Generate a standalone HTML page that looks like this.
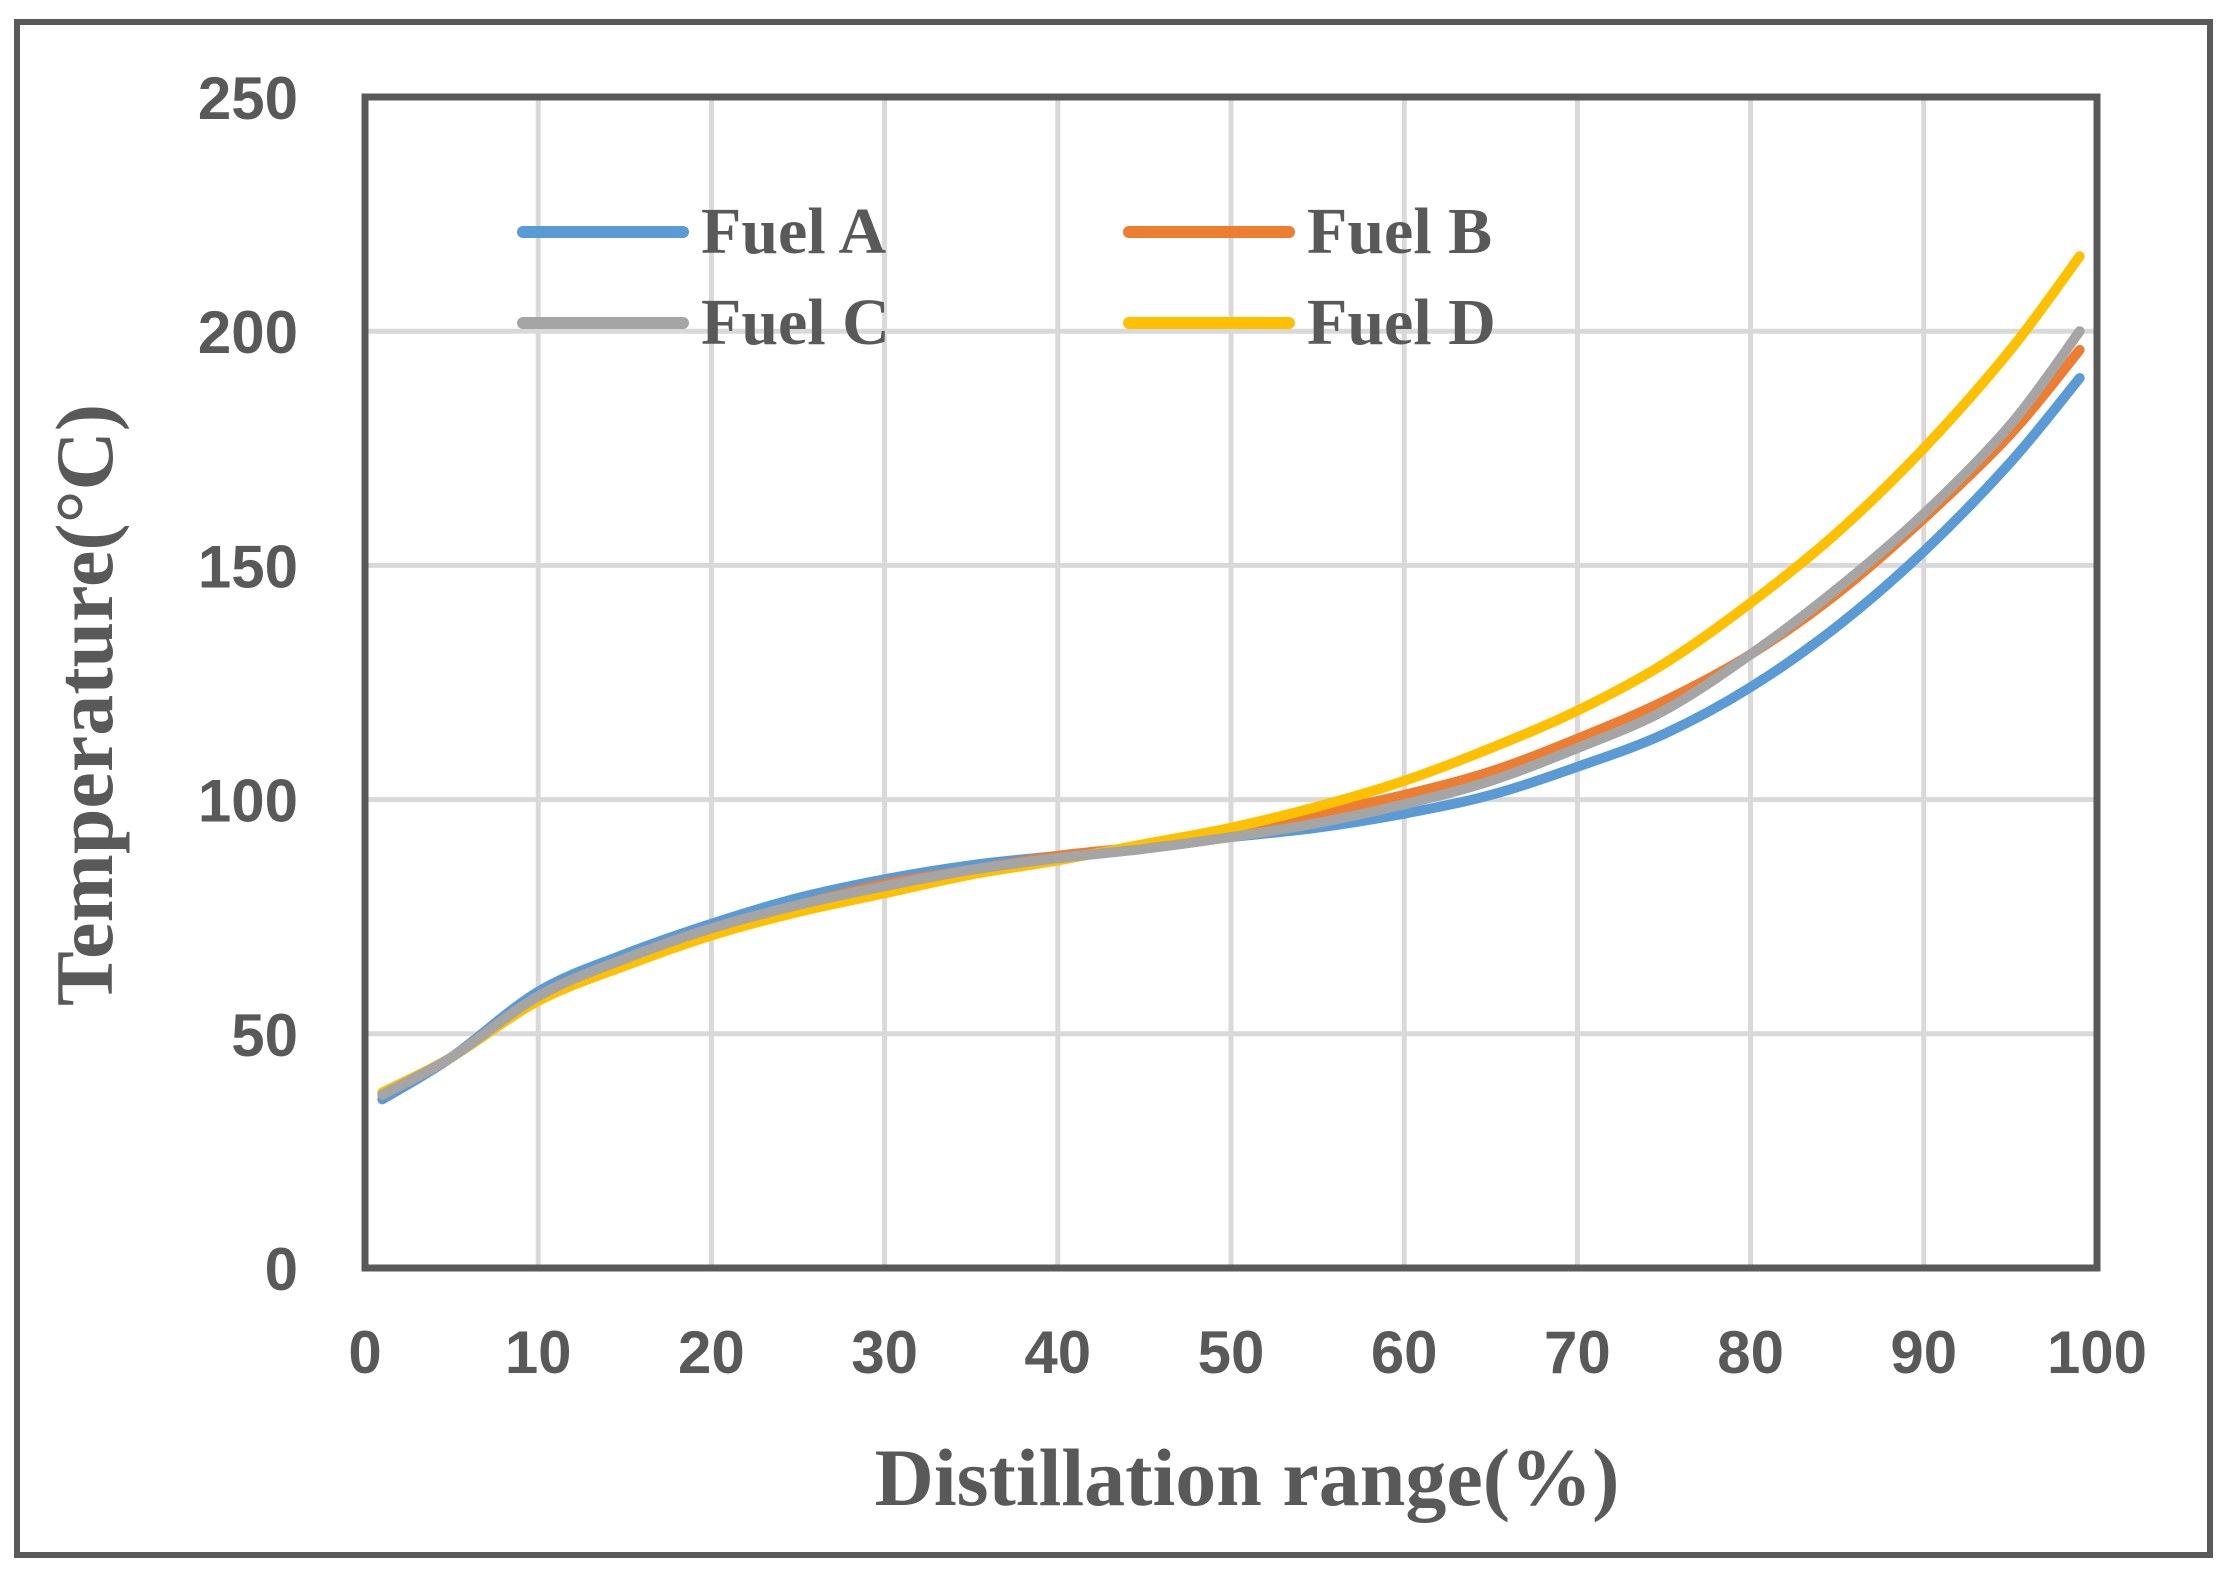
<!DOCTYPE html>
<html><head><meta charset="utf-8"><style>
html,body{margin:0;padding:0;background:#fff;}
svg{display:block;}
</style></head><body>
<svg id="chart" width="2232" height="1572" viewBox="0 0 2232 1572" xmlns="http://www.w3.org/2000/svg">
<rect x="17" y="22" width="2193" height="1533" fill="#fff" stroke="#595959" stroke-width="6"/>
<g id="grid"></g>
<g id="series"></g>
<rect x="365" y="97" width="1732" height="1171" fill="none" stroke="#595959" stroke-width="7"/>
<g id="yticks" font-family="Liberation Sans, sans-serif" font-weight="bold" font-size="60" fill="#595959" text-anchor="end"></g>
<g id="xticks" font-family="Liberation Sans, sans-serif" font-weight="bold" font-size="60" fill="#595959" text-anchor="middle"></g>
<text x="1247" y="1505" font-family="Liberation Serif, serif" font-weight="bold" font-size="82" fill="#595959" text-anchor="middle">Distillation range(%)</text>
<text transform="translate(112,705) rotate(-90)" font-family="Liberation Serif, serif" font-weight="bold" font-size="82" fill="#595959" text-anchor="middle">Temperature(°C)</text>
<g id="legend" font-family="Liberation Serif, serif" font-weight="bold" font-size="66" fill="#595959"></g>
</svg>
<script>
const xValues = [1,5,10,15,20,25,30,35,40,45,50,55,60,65,70,75,80,85,90,95,99];
const fuelA = [36,45,59,67,73.5,79,83,86,88,90,92,94,97,101,107,114,124,137,153,172,190];
const fuelB = [37,45,58,66,72.5,77.5,82,85,88,90,93,97,101,106,113,121,131,144,160,178,196];
const fuelC = [37,45,58,66,72.5,77.5,81.5,85,87.5,89.5,92,95,99,104,111,119,131,145,161,180,200];
const fuelD = [37.5,45,57,64.5,71,76,80,84,87,90.5,94,98.5,104,111,119,129,142,157,175,196,216];
const seriesNames = ["Fuel A","Fuel B","Fuel C","Fuel D"];
const yTickLabels = [0,50,100,150,200,250];
const xTickLabels = [0,10,20,30,40,50,60,70,80,90,100];

const NS="http://www.w3.org/2000/svg";
const X0=365,X1=2097,Y0=1268,Y1=97;
function xs(v){return X0+(v/100)*(X1-X0);}
function ys(v){return Y0-(v/250)*(Y0-Y1);}
function mk(tag,attrs,parent){const e=document.createElementNS(NS,tag);for(const k in attrs)e.setAttribute(k,attrs[k]);parent.appendChild(e);return e;}

const grid=document.getElementById('grid');
xTickLabels.forEach(v=>{if(v===0||v===100)return;
 const l=mk('line',{x1:xs(v),x2:xs(v),y1:Y1,y2:Y0,stroke:'#d9d9d9','stroke-width':5},grid);
 
 });
yTickLabels.forEach(v=>{if(v===0||v===250)return;
 const l=mk('line',{x1:X0,x2:X1,y1:ys(v),y2:ys(v),stroke:'#d9d9d9','stroke-width':5},grid);
 
 });

const yt=document.getElementById('yticks');
yTickLabels.forEach(v=>{const t=mk('text',{x:298,y:ys(v)+22},yt);t.textContent=v;
 
 });
const xt=document.getElementById('xticks');
xTickLabels.forEach(v=>{const t=mk('text',{x:xs(v),y:1373},xt);t.textContent=v;
 
 });

function smoothPath(xsArr,ysArr){
 const p=xsArr.map((x,i)=>[xs(x),ys(ysArr[i])]);
 let d='M'+p[0][0]+','+p[0][1];
 for(let i=0;i<p.length-1;i++){
  const p0=p[i-1]||p[i],p1=p[i],p2=p[i+1],p3=p[i+2]||p2;
  const c1=[p1[0]+(p2[0]-p0[0])/6,p1[1]+(p2[1]-p0[1])/6];
  const c2=[p2[0]-(p3[0]-p1[0])/6,p2[1]-(p3[1]-p1[1])/6];
  d+=' C'+c1+' '+c2+' '+p2;
 }
 return d;
}
const colors=['#5b9bd5','#ed7d31','#a5a5a5','#ffc000'];
const sg=document.getElementById('series');
[0,1,3,2].forEach(i=>{
 const arr=[fuelA,fuelB,fuelC,fuelD][i];
 const p=mk('path',{d:smoothPath(xValues,arr),fill:'none',stroke:colors[i],'stroke-width':10,'stroke-linecap':'round','stroke-linejoin':'round'},sg);
 
 
});

const lg=document.getElementById('legend');
const pos=[[517,232],[1123,232],[517,323],[1123,323]];
seriesNames.forEach((n,i)=>{
 const [x,y]=pos[i];
 const l=mk('line',{x1:x+6,x2:x+166,y1:y,y2:y,stroke:colors[i],'stroke-width':12,'stroke-linecap':'round'},lg);
 
 
 const t=mk('text',{x:x+184,y:y+21},lg);t.textContent=n;
 
 
});
</script>
</body></html>
